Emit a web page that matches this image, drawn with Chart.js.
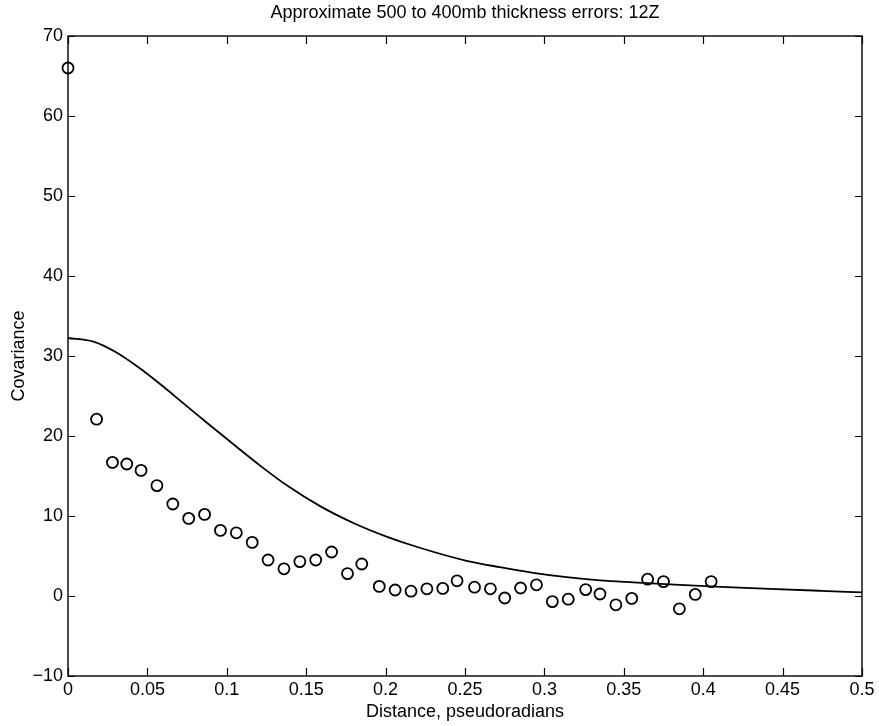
<!DOCTYPE html>
<html>
<head>
<meta charset="utf-8">
<script src="https://cdn.jsdelivr.net/npm/chart.js@4/dist/chart.umd.min.js"></script>
<style>
html,body{margin:0;padding:0;background:#fff;}
#wrap{width:879px;height:726px;}
</style>
</head>
<body>
<div id="wrap"><canvas id="c" width="879" height="726"></canvas></div>
<script>
const chartTitle = "Approximate 500 to 400mb thickness errors: 12Z";
const xAxisTitle = "Distance, pseudoradians";
const yAxisTitle = "Covariance";

// observed covariance (circles)
const obsX = [0, 0.018, 0.028, 0.037, 0.046, 0.056, 0.066, 0.076, 0.086, 0.096, 0.106,
  0.116, 0.126, 0.136, 0.146, 0.156, 0.166, 0.176, 0.185, 0.196, 0.206,
  0.216, 0.226, 0.236, 0.245, 0.256, 0.266, 0.275, 0.285, 0.295, 0.305,
  0.315, 0.326, 0.335, 0.345, 0.355, 0.365, 0.375, 0.385, 0.395, 0.405];
const obsY = [66.0, 22.1, 16.7, 16.5, 15.7, 13.8, 11.5, 9.7, 10.2, 8.2, 7.9,
  6.7, 4.5, 3.4, 4.3, 4.5, 5.5, 2.8, 4.0, 1.2, 0.75,
  0.6, 0.9, 0.95, 1.9, 1.1, 0.9, -0.25, 1.0, 1.4, -0.7,
  -0.4, 0.8, 0.25, -1.1, -0.3, 2.1, 1.8, -1.6, 0.2, 1.8];

// fitted curve (solid line)
const fitX = [0, 0.016, 0.030, 0.045, 0.058, 0.075, 0.089, 0.104, 0.121, 0.138, 0.159,
  0.180, 0.201, 0.222, 0.251, 0.272, 0.293, 0.314, 0.335, 0.356,
  0.379, 0.411, 0.442, 0.474, 0.500];
const fitY = [32.25, 31.8, 30.5, 28.5, 26.5, 23.7, 21.4, 19.0, 16.3, 13.8, 11.2,
  9.1, 7.4, 6.0, 4.4, 3.6, 2.9, 2.35, 1.95, 1.7,
  1.45, 1.15, 0.9, 0.65, 0.45];

const xTicks = [0, 0.05, 0.1, 0.15, 0.2, 0.25, 0.3, 0.35, 0.4, 0.45, 0.5];
const yTicks = [-10, 0, 10, 20, 30, 40, 50, 60, 70];

const FONT = "'Liberation Sans', Arial, Helvetica, sans-serif";
const FS = 18;

const framePlugin = {
  id: 'frame',
  afterDraw(chart) {
    const {ctx, chartArea: a, scales} = chart;
    ctx.save();
    ctx.strokeStyle = '#000';
    ctx.lineWidth = 1.4;
    ctx.strokeRect(a.left, a.top, a.right - a.left, a.bottom - a.top);
    ctx.lineWidth = 1.2;
    ctx.beginPath();
    xTicks.forEach(v => {
      const px = Math.round(scales.x.getPixelForValue(v)) + 0.5;
      ctx.moveTo(px, a.bottom); ctx.lineTo(px, a.bottom - 8);
      ctx.moveTo(px, a.top); ctx.lineTo(px, a.top + 8);
    });
    yTicks.forEach(v => {
      const py = Math.round(scales.y.getPixelForValue(v)) + 0.5;
      ctx.moveTo(a.left, py); ctx.lineTo(a.left + 7, py);
      ctx.moveTo(a.right, py); ctx.lineTo(a.right - 7, py);
    });
    ctx.stroke();
    ctx.fillStyle = '#000';
    ctx.font = FS + 'px ' + FONT;
    ctx.textAlign = 'center';
    ctx.textBaseline = 'middle';
    ctx.fillText(chartTitle, (a.left + a.right) / 2, 13);
    ctx.restore();
  }
};

new Chart(document.getElementById('c'), {
  type: 'scatter',
  data: {
    datasets: [
      {
        type: 'line',
        data: fitX.map((x, i) => ({x, y: fitY[i]})),
        borderColor: '#000',
        borderWidth: 1.8,
        pointRadius: 0,
        fill: false,
        cubicInterpolationMode: 'monotone'
      },
      {
        data: obsX.map((x, i) => ({x, y: obsY[i]})),
        showLine: false,
        pointRadius: 5.5,
        pointBorderWidth: 1.8,
        pointBorderColor: '#000',
        pointBackgroundColor: 'rgba(0,0,0,0)'
      }
    ]
  },
  options: {
    responsive: false,
    animation: false,
    clip: false,
    layout: {padding: {top: 36, right: 17, left: 0, bottom: 0}},
    plugins: {legend: {display: false}, tooltip: {enabled: false}, title: {display: false}},
    scales: {
      x: {
        type: 'linear', min: 0, max: 0.5,
        afterFit(s) { s.height = 50; },
        afterBuildTicks(s) { s.ticks = xTicks.map(v => ({value: v})); },
        grid: {display: false, drawTicks: false},
        border: {display: false},
        ticks: {
          color: '#000', padding: 3, maxRotation: 0, autoSkip: false,
          font: {family: FONT, size: FS},
          callback: v => String(v)
        },
        title: {display: true, text: xAxisTitle, color: '#000', font: {family: FONT, size: FS}, padding: {top: 0, bottom: 3}}
      },
      y: {
        type: 'linear', min: -10, max: 70,
        afterFit(s) { s.width = 68; },
        afterBuildTicks(s) { s.ticks = yTicks.map(v => ({value: v})); },
        grid: {display: false, drawTicks: false},
        border: {display: false},
        ticks: {
          color: '#000', padding: 5, autoSkip: false,
          font: {family: FONT, size: FS},
          callback: v => String(v).replace('-', '\u2212')
        },
        title: {display: true, text: yAxisTitle, color: '#000', font: {family: FONT, size: FS}, padding: {top: 8, bottom: 0}}
      }
    }
  },
  plugins: [framePlugin]
});
</script>
</body>
</html>
